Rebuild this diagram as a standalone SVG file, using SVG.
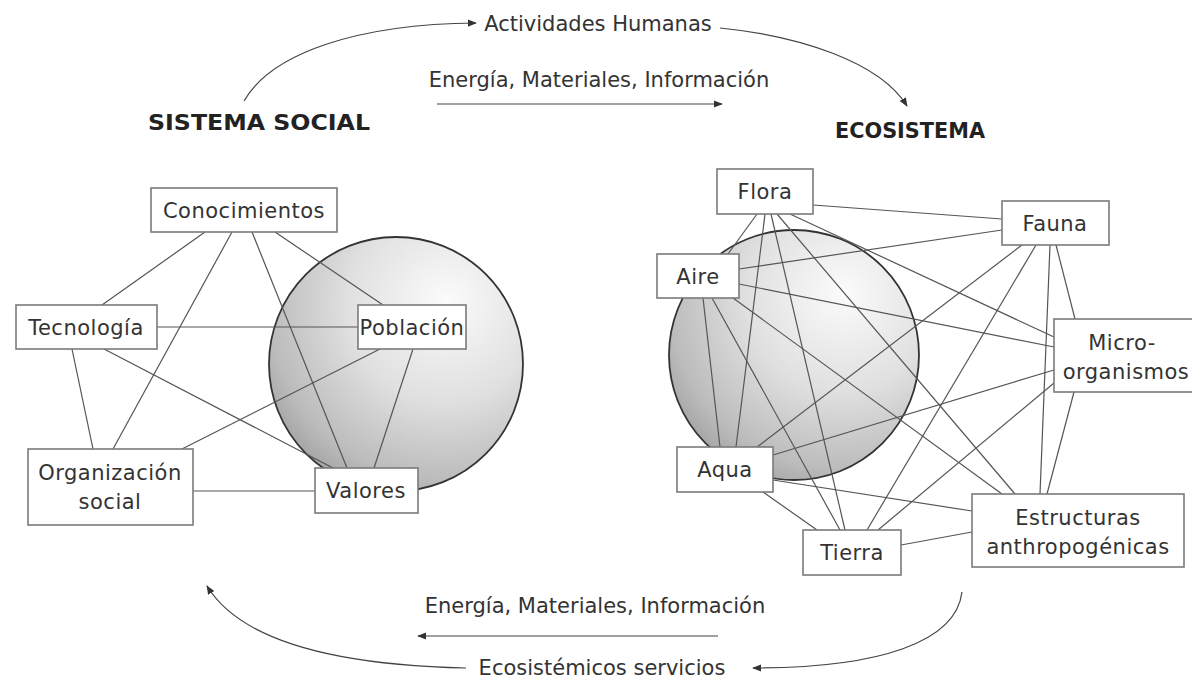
<svg xmlns="http://www.w3.org/2000/svg" width="1192" height="690" viewBox="0 0 1192 690">
<defs>
<radialGradient id="sph" cx="0.68" cy="0.28" r="0.85" fx="0.7" fy="0.25">
<stop offset="0" stop-color="#fbfbfb"/>
<stop offset="0.45" stop-color="#e0e0e0"/>
<stop offset="0.8" stop-color="#bcbcbc"/>
<stop offset="1" stop-color="#999"/>
</radialGradient>
<marker id="ah" viewBox="0 0 10 10" refX="9" refY="5" markerWidth="9" markerHeight="9" markerUnits="userSpaceOnUse" orient="auto">
<path d="M0,1 L10,5 L0,9 z" fill="#333"/>
</marker>
<style>
.box{fill:#fff;stroke:#7a7a7a;stroke-width:1.6}
.lbl{font-family:"DejaVu Sans","Liberation Sans",sans-serif;font-size:21px;fill:#333;text-anchor:middle}
.nl{letter-spacing:0.5px}
.title{font-family:"DejaVu Sans","Liberation Sans",sans-serif;font-size:21px;font-weight:bold;fill:#222;text-anchor:middle}
.link{stroke:#555;stroke-width:1.2;fill:none}
.flow{stroke:#444;stroke-width:1.2;fill:none;marker-end:url(#ah)}
.sphere{fill:url(#sph);stroke:#333;stroke-width:1.8}
</style>
</defs>
<rect width="1192" height="690" fill="#fff"/>

<g id="spheres">
<circle class="sphere" cx="396" cy="364" r="127"/>
<circle class="sphere" cx="794" cy="355" r="125"/>
</g>

<g id="connectors">
<!-- left cluster -->
<line class="link" x1="205" y1="232" x2="102" y2="305"/>
<line class="link" x1="232" y1="232" x2="113" y2="449"/>
<line class="link" x1="252" y1="232" x2="347" y2="468"/>
<line class="link" x1="275" y1="232" x2="383" y2="305"/>
<line class="link" x1="157" y1="327" x2="358" y2="327"/>
<line class="link" x1="104" y1="349" x2="333" y2="468"/>
<line class="link" x1="72" y1="349" x2="93" y2="449"/>
<line class="link" x1="380" y1="349" x2="182" y2="449"/>
<line class="link" x1="413" y1="349" x2="374" y2="468"/>
<line class="link" x1="193" y1="491" x2="315" y2="491"/>
<!-- right cluster -->
<line class="link" x1="813" y1="205" x2="1002" y2="219"/>
<line class="link" x1="757" y1="214" x2="728" y2="254"/>
<line class="link" x1="765" y1="214" x2="736" y2="447"/>
<line class="link" x1="771" y1="214" x2="845" y2="530"/>
<line class="link" x1="777" y1="214" x2="1015" y2="494"/>
<line class="link" x1="790" y1="214" x2="1054" y2="337"/>
<line class="link" x1="739" y1="269" x2="1002" y2="230"/>
<line class="link" x1="739" y1="284" x2="1054" y2="347"/>
<line class="link" x1="703" y1="298" x2="720" y2="447"/>
<line class="link" x1="712" y1="298" x2="840" y2="530"/>
<line class="link" x1="733" y1="298" x2="1002" y2="494"/>
<line class="link" x1="1022" y1="245" x2="757" y2="447"/>
<line class="link" x1="1036" y1="245" x2="867" y2="530"/>
<line class="link" x1="1050" y1="245" x2="1040" y2="494"/>
<line class="link" x1="1056" y1="245" x2="1075" y2="319"/>
<line class="link" x1="1054" y1="370" x2="773" y2="455"/>
<line class="link" x1="1054" y1="383" x2="878" y2="530"/>
<line class="link" x1="1074" y1="392" x2="1047" y2="494"/>
<line class="link" x1="763" y1="492" x2="817" y2="530"/>
<line class="link" x1="773" y1="480" x2="972" y2="511"/>
<line class="link" x1="901" y1="545" x2="972" y2="532"/>
<!-- flows -->
<path class="flow" d="M244,101 C272,52 360,24 476,23"/>
<path class="flow" d="M720,28 C800,36 880,62 907,106"/>
<path class="flow" d="M437,104 H722"/>
<path class="flow" d="M718,636 H418"/>
<path class="flow" d="M962,592 C956,642 880,668 753,668"/>
<path class="flow" d="M466,668 C330,665 240,640 207,586"/>
</g>

<g id="titles">
<text class="title" x="259" y="130" textLength="222" lengthAdjust="spacingAndGlyphs">SISTEMA SOCIAL</text>
<text class="title" x="910" y="138" textLength="150" lengthAdjust="spacingAndGlyphs">ECOSISTEMA</text>
<text class="lbl" x="598" y="31">Actividades Humanas</text>
<text class="lbl" x="599" y="87">Energía, Materiales, Información</text>
<text class="lbl" x="595" y="613">Energía, Materiales, Información</text>
<text class="lbl" x="602" y="675">Ecosistémicos servicios</text>
</g>

<g id="n-conocimientos"><rect class="box" x="151" y="188" width="186" height="44"/><text class="lbl nl" x="244" y="218">Conocimientos</text></g>
<g id="n-tecnologia"><rect class="box" x="16" y="305" width="141" height="44"/><text class="lbl nl" x="86" y="335">Tecnología</text></g>
<g id="n-poblacion"><rect class="box" x="358" y="305" width="108" height="44"/><text class="lbl nl" x="412" y="335">Población</text></g>
<g id="n-organizacion"><rect class="box" x="28" y="449" width="165" height="76"/><text class="lbl nl" x="110" y="480">Organización</text><text class="lbl nl" x="110" y="509">social</text></g>
<g id="n-valores"><rect class="box" x="315" y="468" width="103" height="45"/><text class="lbl nl" x="366" y="498">Valores</text></g>

<g id="n-flora"><rect class="box" x="717" y="169" width="96" height="45"/><text class="lbl nl" x="765" y="199">Flora</text></g>
<g id="n-fauna"><rect class="box" x="1002" y="201" width="107" height="44"/><text class="lbl nl" x="1055" y="231">Fauna</text></g>
<g id="n-aire"><rect class="box" x="657" y="254" width="82" height="44"/><text class="lbl nl" x="698" y="284">Aire</text></g>
<g id="n-micro"><rect class="box" x="1054" y="319" width="150" height="73"/><text class="lbl nl" x="1122" y="350">Micro-</text><text class="lbl nl" x="1126" y="379">organismos</text></g>
<g id="n-aqua"><rect class="box" x="677" y="447" width="96" height="45"/><text class="lbl nl" x="725" y="477">Aqua</text></g>
<g id="n-tierra"><rect class="box" x="803" y="530" width="98" height="45"/><text class="lbl nl" x="852" y="560">Tierra</text></g>
<g id="n-estructuras"><rect class="box" x="972" y="494" width="212" height="73"/><text class="lbl nl" x="1078" y="525">Estructuras</text><text class="lbl nl" x="1078" y="554">anthropogénicas</text></g>
</svg>
